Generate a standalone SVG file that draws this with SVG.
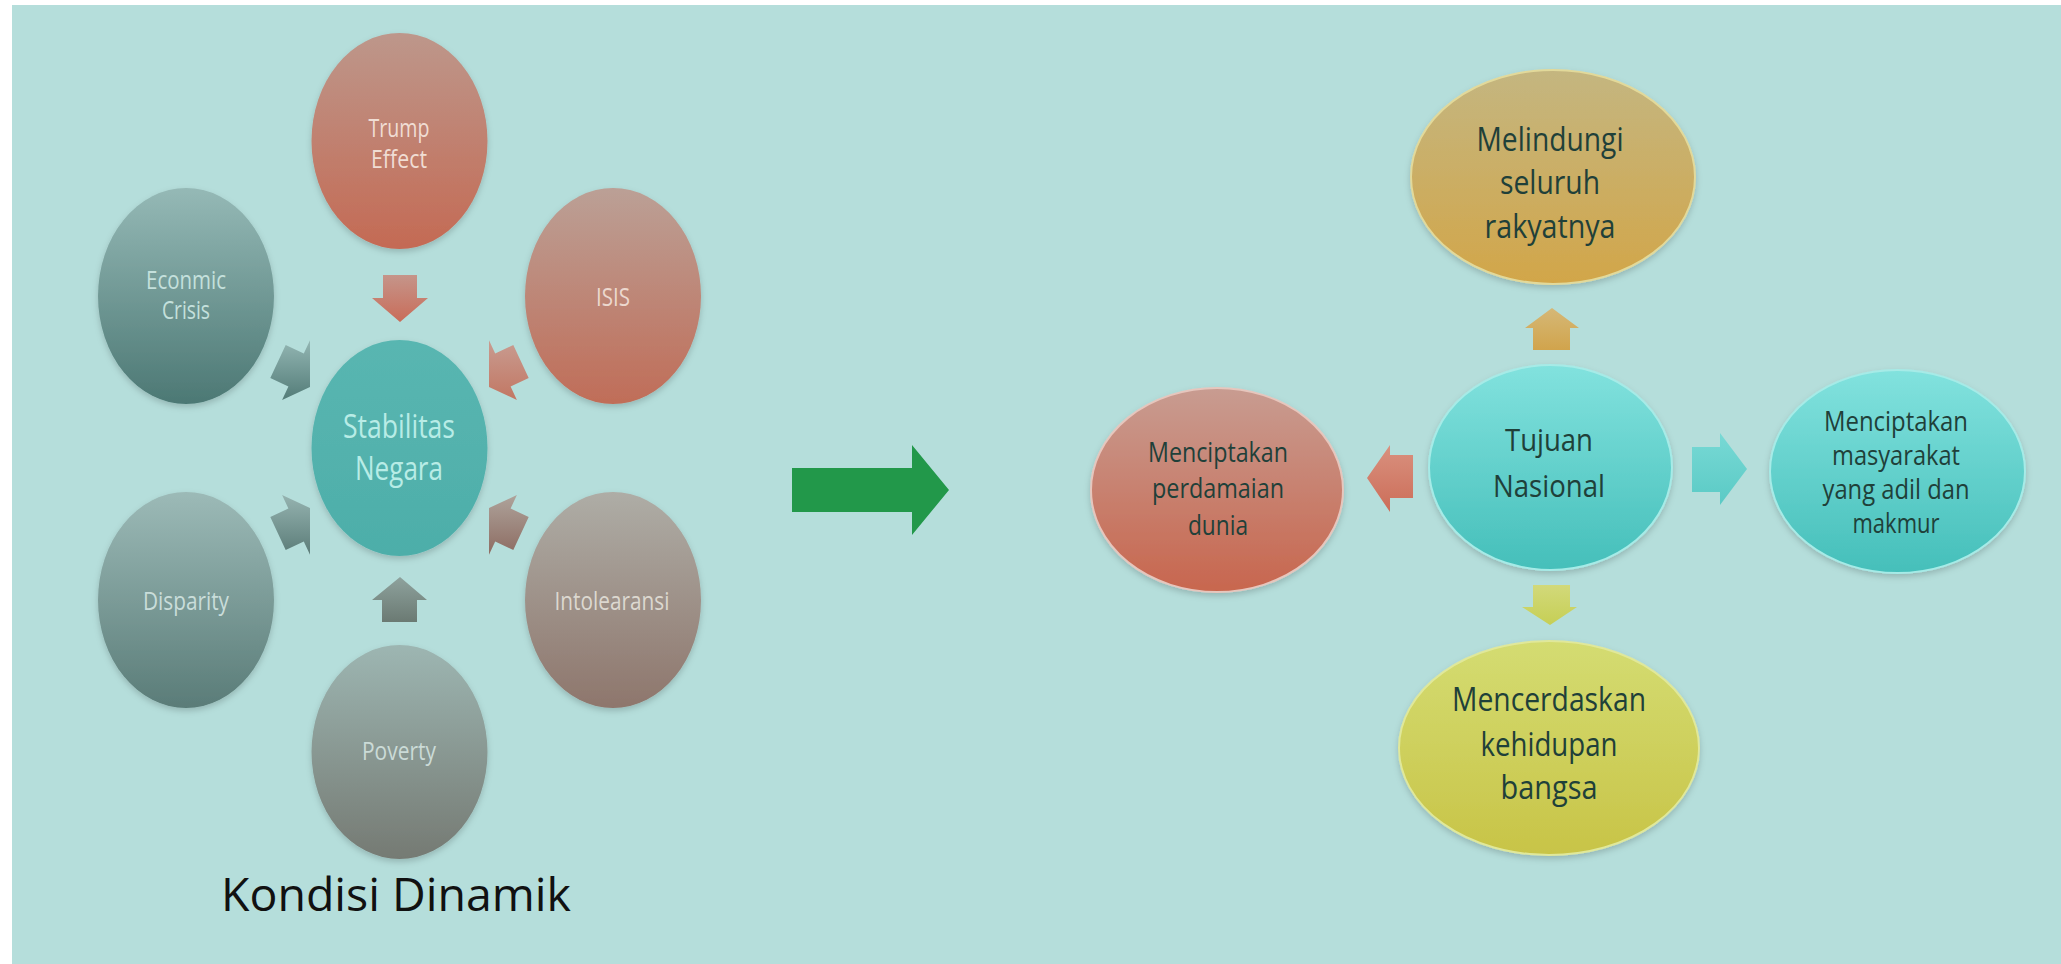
<svg xmlns="http://www.w3.org/2000/svg" width="2061" height="964" viewBox="0 0 2061 964">
<style>
.lt{font-family:"Open Sans","Liberation Sans",sans-serif;font-size:25px;text-anchor:middle}
.st{font-family:"Open Sans","Liberation Sans",sans-serif;font-size:32px;text-anchor:middle;fill:#b8ece6}
.rt{font-family:"Open Sans","Liberation Sans",sans-serif;text-anchor:middle;fill:#1f4039}
.ttl{font-family:"Open Sans","Liberation Sans",sans-serif;font-size:46px;fill:#111}
</style>
<defs>
<filter id="sh" x="-20%" y="-20%" width="140%" height="140%"><feDropShadow dx="0" dy="3" stdDeviation="3" flood-color="#000" flood-opacity="0.18"/></filter>
<linearGradient id="gTrump" x1="0" y1="0" x2="0" y2="1"><stop offset="0" stop-color="#bd978b"/><stop offset="1" stop-color="#c46a54"/></linearGradient>
<linearGradient id="gIsis" x1="0" y1="0" x2="0" y2="1"><stop offset="0" stop-color="#bba096"/><stop offset="1" stop-color="#c06d58"/></linearGradient>
<linearGradient id="gEcon" x1="0" y1="0" x2="0" y2="1"><stop offset="0" stop-color="#95b9b6"/><stop offset="1" stop-color="#4c7874"/></linearGradient>
<linearGradient id="gDisp" x1="0" y1="0" x2="0" y2="1"><stop offset="0" stop-color="#9cbab7"/><stop offset="1" stop-color="#5a7c78"/></linearGradient>
<linearGradient id="gIntol" x1="0" y1="0" x2="0" y2="1"><stop offset="0" stop-color="#aeada6"/><stop offset="1" stop-color="#8e766c"/></linearGradient>
<linearGradient id="gPov" x1="0" y1="0" x2="0" y2="1"><stop offset="0" stop-color="#9db6b2"/><stop offset="1" stop-color="#757a73"/></linearGradient>
<linearGradient id="gStab" x1="0" y1="0" x2="0" y2="1"><stop offset="0" stop-color="#59b6b1"/><stop offset="1" stop-color="#4daea9"/></linearGradient>
<linearGradient id="gCyan" x1="0" y1="0" x2="0" y2="1"><stop offset="0" stop-color="#82e2de"/><stop offset="1" stop-color="#45bfba"/></linearGradient>
<linearGradient id="gRose" x1="0" y1="0" x2="0" y2="1"><stop offset="0" stop-color="#c89c91"/><stop offset="1" stop-color="#c8664e"/></linearGradient>
<linearGradient id="gGold" x1="0" y1="0" x2="0" y2="1"><stop offset="0" stop-color="#c4b680"/><stop offset="1" stop-color="#d2a649"/></linearGradient>
<linearGradient id="gLime" x1="0" y1="0" x2="0" y2="1"><stop offset="0" stop-color="#d4dc72"/><stop offset="1" stop-color="#c8c447"/></linearGradient>
<linearGradient id="aTop" x1="0" y1="0" x2="0" y2="1"><stop offset="0" stop-color="#c5958a"/><stop offset="1" stop-color="#c96c59"/></linearGradient>
<linearGradient id="aBot" x1="0" y1="0" x2="0" y2="1"><stop offset="0" stop-color="#8ea29d"/><stop offset="1" stop-color="#6b7a73"/></linearGradient>
<linearGradient id="aUL" x1="0" y1="0" x2="0" y2="1"><stop offset="0" stop-color="#93b6b3"/><stop offset="1" stop-color="#537c78"/></linearGradient>
<linearGradient id="aLL" x1="0" y1="0" x2="0" y2="1"><stop offset="0" stop-color="#95b3b0"/><stop offset="1" stop-color="#5b7c78"/></linearGradient>
<linearGradient id="aUR" x1="0" y1="0" x2="0" y2="1"><stop offset="0" stop-color="#c89c91"/><stop offset="1" stop-color="#c27763"/></linearGradient>
<linearGradient id="aLR" x1="0" y1="0" x2="0" y2="1"><stop offset="0" stop-color="#aea39b"/><stop offset="1" stop-color="#8d6c62"/></linearGradient>
<linearGradient id="aUp" x1="0" y1="0" x2="0" y2="1"><stop offset="0" stop-color="#d5b877"/><stop offset="1" stop-color="#d1a44c"/></linearGradient>
<linearGradient id="aLeft" x1="0" y1="0" x2="0" y2="1"><stop offset="0" stop-color="#d9917f"/><stop offset="1" stop-color="#cc6d58"/></linearGradient>
<linearGradient id="aRight" x1="0" y1="0" x2="0" y2="1"><stop offset="0" stop-color="#78d9d5"/><stop offset="1" stop-color="#5acac5"/></linearGradient>
<linearGradient id="aDown" x1="0" y1="0" x2="0" y2="1"><stop offset="0" stop-color="#d2d97a"/><stop offset="1" stop-color="#c6cf55"/></linearGradient>
</defs>

<rect x="0" y="0" width="2061" height="964" fill="#ffffff"/>
<rect x="12" y="5" width="2049" height="959" fill="#b5dedb"/>

<g id="connectors">
  <polygon points="383,275 417,275 417,298 428,298 400,322 372,298 383,298" fill="url(#aTop)"/>
  <polygon points="400,577 427,600 417,600 417,622 382,622 382,600 372,600" fill="url(#aBot)"/>
  <polygon points="285.7,344.9 303.8,353.4 310,340.3 310,387.1 282.1,399.9 288.4,386.6 270.3,378.1" fill="url(#aUL)"/>
  <polygon points="285.7,550.1 303.8,541.6 310,554.7 310,507.9 282.1,495.1 288.4,508.4 270.3,516.9" fill="url(#aLL)"/>
  <polygon points="513.3,344.9 495.2,353.4 489,340.3 489,387.1 516.9,399.9 510.6,386.6 528.7,378.1" fill="url(#aUR)"/>
  <polygon points="513.3,550.1 495.2,541.6 489,554.7 489,507.9 516.9,495.1 510.6,508.4 528.7,516.9" fill="url(#aLR)"/>
  <polygon points="792,468 912,468 912,445 949,490 912,535 912,512 792,512" fill="#22984a"/>
  <polygon points="1552,308 1579,328 1570,328 1570,350 1533,350 1533,328 1525,328" fill="url(#aUp)"/>
  <polygon points="1367,478 1390,445 1390,455 1413,455 1413,498 1390,498 1390,512" fill="url(#aLeft)"/>
  <polygon points="1692,447 1720,447 1720,433 1747,469 1720,505 1720,492 1692,492" fill="url(#aRight)"/>
  <polygon points="1533,585 1570,585 1570,607 1577,607 1550,625 1522,607 1533,607" fill="url(#aDown)"/>
</g>

<g id="node-trump">
  <ellipse cx="399.5" cy="141" rx="88" ry="108" fill="url(#gTrump)" filter="url(#sh)"/>
  <text class="lt" fill="#f0ddd4" x="399" y="137" textLength="61" lengthAdjust="spacingAndGlyphs">Trump</text>
  <text class="lt" fill="#f0ddd4" x="399" y="168" textLength="56" lengthAdjust="spacingAndGlyphs">Effect</text>
</g>
<g id="node-econ">
  <ellipse cx="186" cy="296" rx="88" ry="108" fill="url(#gEcon)" filter="url(#sh)"/>
  <text class="lt" fill="#c4e0dc" x="186" y="289" textLength="80" lengthAdjust="spacingAndGlyphs">Econmic</text>
  <text class="lt" fill="#c4e0dc" x="186" y="319" textLength="48" lengthAdjust="spacingAndGlyphs">Crisis</text>
</g>
<g id="node-isis">
  <ellipse cx="613" cy="296" rx="88" ry="108" fill="url(#gIsis)" filter="url(#sh)"/>
  <text class="lt" fill="#ecd8cf" x="613" y="306" textLength="34" lengthAdjust="spacingAndGlyphs">ISIS</text>
</g>
<g id="node-stabilitas">
  <ellipse cx="399.5" cy="448" rx="88" ry="108" fill="url(#gStab)" filter="url(#sh)"/>
  <text class="st" x="399" y="438" textLength="112" lengthAdjust="spacingAndGlyphs">Stabilitas</text>
  <text class="st" x="399" y="480" textLength="88" lengthAdjust="spacingAndGlyphs">Negara</text>
</g>
<g id="node-disparity">
  <ellipse cx="186" cy="600" rx="88" ry="108" fill="url(#gDisp)" filter="url(#sh)"/>
  <text class="lt" fill="#c9ddda" x="186" y="610" textLength="86" lengthAdjust="spacingAndGlyphs">Disparity</text>
</g>
<g id="node-intolearansi">
  <ellipse cx="613" cy="600" rx="88" ry="108" fill="url(#gIntol)" filter="url(#sh)"/>
  <text class="lt" fill="#dcd8d0" x="612" y="610" textLength="115" lengthAdjust="spacingAndGlyphs">Intolearansi</text>
</g>
<g id="node-poverty">
  <ellipse cx="399.5" cy="752" rx="88" ry="107" fill="url(#gPov)" filter="url(#sh)"/>
  <text class="lt" fill="#cbdbd7" x="399" y="760" textLength="74" lengthAdjust="spacingAndGlyphs">Poverty</text>
</g>
<g id="title">
  <text class="ttl" x="221" y="911" textLength="350" lengthAdjust="spacingAndGlyphs">Kondisi Dinamik</text>
</g>

<g id="node-tujuan">
  <ellipse cx="1550.5" cy="467.5" rx="121.5" ry="102.5" fill="url(#gCyan)" stroke="#a6ebe7" stroke-width="2" filter="url(#sh)"/>
  <text class="rt" font-size="31" x="1549" y="451" textLength="88" lengthAdjust="spacingAndGlyphs">Tujuan</text>
  <text class="rt" font-size="31" x="1549" y="497" textLength="112" lengthAdjust="spacingAndGlyphs">Nasional</text>
</g>
<g id="node-melindungi">
  <ellipse cx="1553" cy="177" rx="142" ry="107" fill="url(#gGold)" stroke="#e2d99a" stroke-width="2" filter="url(#sh)"/>
  <text class="rt" font-size="33" x="1550" y="151" textLength="147" lengthAdjust="spacingAndGlyphs">Melindungi</text>
  <text class="rt" font-size="33" x="1550" y="194" textLength="100" lengthAdjust="spacingAndGlyphs">seluruh</text>
  <text class="rt" font-size="33" x="1550" y="238" textLength="131" lengthAdjust="spacingAndGlyphs">rakyatnya</text>
</g>
<g id="node-perdamaian">
  <ellipse cx="1217" cy="490" rx="126" ry="102" fill="url(#gRose)" stroke="#e6c6bd" stroke-width="2" filter="url(#sh)"/>
  <text class="rt" font-size="28" x="1218" y="462" textLength="140" lengthAdjust="spacingAndGlyphs">Menciptakan</text>
  <text class="rt" font-size="28" x="1218" y="498" textLength="132" lengthAdjust="spacingAndGlyphs">perdamaian</text>
  <text class="rt" font-size="28" x="1218" y="535" textLength="60" lengthAdjust="spacingAndGlyphs">dunia</text>
</g>
<g id="node-masyarakat">
  <ellipse cx="1897.5" cy="471.5" rx="127.5" ry="101.5" fill="url(#gCyan)" stroke="#a6ebe7" stroke-width="2" filter="url(#sh)"/>
  <text class="rt" font-size="27" x="1896" y="431" textLength="144" lengthAdjust="spacingAndGlyphs">Menciptakan</text>
  <text class="rt" font-size="27" x="1896" y="465" textLength="128" lengthAdjust="spacingAndGlyphs">masyarakat</text>
  <text class="rt" font-size="27" x="1896" y="499" textLength="147" lengthAdjust="spacingAndGlyphs">yang adil dan</text>
  <text class="rt" font-size="27" x="1896" y="533" textLength="87" lengthAdjust="spacingAndGlyphs">makmur</text>
</g>
<g id="node-mencerdaskan">
  <ellipse cx="1549" cy="748" rx="150" ry="107" fill="url(#gLime)" stroke="#e0e89a" stroke-width="2" filter="url(#sh)"/>
  <text class="rt" font-size="33" x="1549" y="711" textLength="194" lengthAdjust="spacingAndGlyphs">Mencerdaskan</text>
  <text class="rt" font-size="33" x="1549" y="756" textLength="137" lengthAdjust="spacingAndGlyphs">kehidupan</text>
  <text class="rt" font-size="33" x="1549" y="799" textLength="97" lengthAdjust="spacingAndGlyphs">bangsa</text>
</g>
</svg>
